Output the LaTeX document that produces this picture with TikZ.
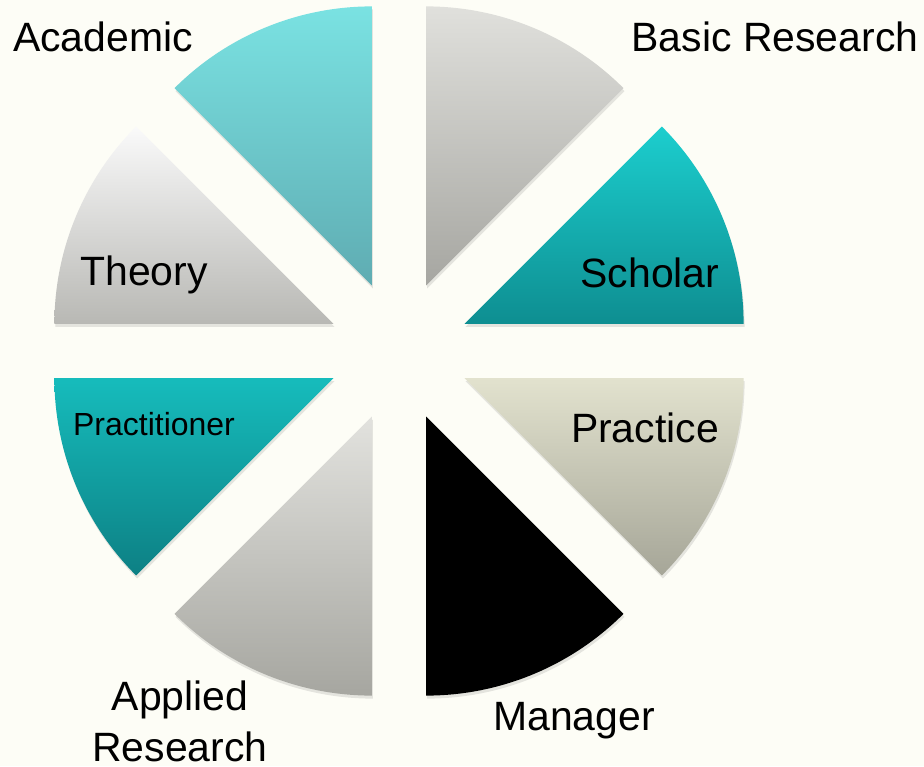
\documentclass[tikz,border=0pt]{standalone}
\usepackage{fontspec}
\setmainfont{Liberation Sans}
\usetikzlibrary{shadows}

\definecolor{bgcream}{RGB}{253,253,246}

\tikzset{
	piece/.style={drop shadow={opacity=0.2, shadow xshift=0.02cm, shadow yshift=-0.06cm}},
	lbl/.style={anchor=base, inner sep=0pt, font=\fontsize{23.3}{28.5}\selectfont},
}

\begin{document}
\begin{tikzpicture}
	\useasboundingbox (-7.98, -8.30) rectangle (10.50, 7.02);
	\fill[bgcream] (-7.98, -8.30) rectangle (10.50, 7.02);

	\shade[piece, top color={rgb,255:red,122;green,226;blue,226}, bottom color={rgb,255:red,95;green,172;blue,178}, shift={(112.5:1.42)}]
		(0, 0) -- (90:5.58) arc[start angle=90, end angle=135, radius=5.58] -- cycle;
	\shade[piece, top color={rgb,255:red,224;green,224;blue,220}, bottom color={rgb,255:red,166;green,166;blue,161}, shift={(67.5:1.42)}]
		(0, 0) -- (45:5.58) arc[start angle=45, end angle=90, radius=5.58] -- cycle;
	\shade[piece, top color={rgb,255:red,28;green,206;blue,206}, bottom color={rgb,255:red,14;green,142;blue,145}, shift={(22.5:1.42)}]
		(0, 0) -- (0:5.58) arc[start angle=0, end angle=45, radius=5.58] -- cycle;
	\shade[piece, top color={rgb,255:red,226;green,226;blue,206}, bottom color={rgb,255:red,166;green,166;blue,152}, shift={(-22.5:1.42)}]
		(0, 0) -- (-45:5.58) arc[start angle=-45, end angle=0, radius=5.58] -- cycle;
	\fill[piece, black, shift={(-67.5:1.42)}]
		(0, 0) -- (-90:5.58) arc[start angle=-90, end angle=-45, radius=5.58] -- cycle;
	\shade[piece, top color={rgb,255:red,226;green,226;blue,222}, bottom color={rgb,255:red,166;green,166;blue,160}, shift={(-112.5:1.42)}]
		(0, 0) -- (-135:5.58) arc[start angle=-135, end angle=-90, radius=5.58] -- cycle;
	\shade[piece, top color={rgb,255:red,22;green,188;blue,188}, bottom color={rgb,255:red,13;green,128;blue,132}, shift={(202.5:1.42)}]
		(0, 0) -- (180:5.58) arc[start angle=180, end angle=225, radius=5.58] -- cycle;
	\shade[piece, top color={rgb,255:red,250;green,250;blue,250}, bottom color={rgb,255:red,184;green,184;blue,180}, shift={(157.5:1.42)}]
		(0, 0) -- (135:5.58) arc[start angle=135, end angle=180, radius=5.58] -- cycle;

	\node[lbl] (academic) at (-5.92, 5.98) {Academic};
	\node[lbl] (basic) at (7.52, 5.98) {Basic Research};
	\node[lbl] (theory) at (-5.10, 1.32) {Theory};
	\node[lbl] (scholar) at (5.02, 1.28) {Scholar};
	\node[lbl, font=\fontsize{18.2}{22}\selectfont] (practitioner) at (-4.90, -1.68) {Practitioner};
	\node[lbl] (practice) at (4.92, -1.82) {Practice};
	\node[lbl, align=center] (applied) at (-4.38, -8.20) {Applied\\Research};
	\node[lbl] (manager) at (3.50, -7.58) {Manager};

\end{tikzpicture}
\end{document}
